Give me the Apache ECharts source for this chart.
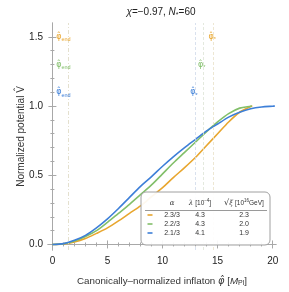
<!DOCTYPE html>
<html><head><meta charset="utf-8">
<script src="https://cdn.jsdelivr.net/npm/echarts@6/dist/echarts.min.js"></script>
<style>html,body{margin:0;padding:0;background:#fff}#c{width:289px;height:292px}</style>
</head><body><div id="c"></div>
<script>
// ---- data ----
const phiBlue = [0,1,2,3,4,5,6,7,8,9,10,11,12,13,14,15,16,17,18,19,20,20.2];
const vBlue   = [0,0.006,0.03,0.066,0.12,0.185,0.26,0.34,0.42,0.49,0.565,0.635,0.70,0.76,0.82,0.87,0.92,0.955,0.98,0.993,0.999,1.0];
const phiGreen = [0,1,2,3,4,5,6,7,8,9,10,11,12,13,14,15,16,17,18,18.1];
const vGreen   = [0,0.005,0.025,0.058,0.10,0.16,0.225,0.29,0.36,0.43,0.51,0.59,0.665,0.74,0.815,0.885,0.945,0.985,0.999,1.0];
const phiOrange = [0,1,2,3,4,5,6,7,8,9,10,11,12,13,14,15,16,17,18,18.15];
const vOrange   = [0,0.004,0.018,0.043,0.08,0.12,0.17,0.225,0.278,0.345,0.41,0.485,0.555,0.63,0.715,0.80,0.885,0.955,0.997,1.0];
const alphaLabels = ['2.3/3','2.2/3','2.1/3'];   // orange, green, blue
const lambdaVals = ['4.3','4.3','4.1'];
const sqrtXiVals = ['2.3','2.0','1.9'];
const phiEnd = 1.45;
const phiStar = {orange:14.6, green:13.69, blue:12.94};
const labelY = {orange:1.5, green:1.3, blue:1.1};
const phiEndLabelX = 1.0;
const phiStarLabelX = {orange:14.5, green:13.55, blue:12.85};
const xMajor = [0,5,10,15,20];
const xMinor = [0,1,2,3,4,5,6,7,8,9,10,11,12,13,14,15,16,17,18,19,20];
const yMajor = [0,0.5,1.0,1.5];
const yMinor = [0,0.1,0.2,0.3,0.4,0.5,0.6,0.7,0.8,0.9,1.0,1.1,1.2,1.3,1.4,1.5];

const C = {orange:'#e8a62e', green:'#82bf6a', blue:'#3d7fd8'};
const FONT = 'Liberation Sans';
const frame = '#a8a8a8';

function pairs(xs, ys){ return xs.map((x,i)=>[x, ys[i]]); }
const gridRect = {left:48, right:13, top:23, bottom:42};

function xAx(grid, pos, ticks, labels, len){
  return {type:'value', gridIndex:grid, position:pos, min:-0.4, max:20.3,
    axisLine:{show:grid===0, lineStyle:{color:frame, width:1}},
    axisTick:{show:true, inside:true, length:len, customValues:ticks, lineStyle:{color:frame}},
    axisLabel:{show:!!labels, customValues:labels||[], fontFamily:FONT, fontSize:10, color:'#222', margin:6,
      formatter:v=>String(v)},
    splitLine:{show:false}};
}
function yAx(grid, pos, ticks, labels, len){
  return {type:'value', gridIndex:grid, position:pos, min:-0.04, max:1.6,
    axisLine:{show:grid===0, lineStyle:{color:frame, width:1}},
    axisTick:{show:true, inside:true, length:len, customValues:ticks, lineStyle:{color:frame}},
    axisLabel:{show:!!labels, customValues:labels||[], fontFamily:FONT, fontSize:10, color:'#222', margin:5,
      formatter:v=>v.toFixed(1)},
    splitLine:{show:false}};
}

const xa = [xAx(0,'bottom',xMajor,xMajor,4), xAx(0,'top',xMajor,null,4),
            xAx(1,'bottom',xMinor,null,2), xAx(1,'top',xMinor,null,2)];
xa[0].name = '{n|Canonically–normalized inflaton }{i|φ̂}{n| [}{m|M}{sub|Pl}{n|]}';
xa[0].nameLocation = 'middle';
xa[0].nameGap = 25;
xa[0].nameMoveOverlap = false;
xa[0].nameTextStyle = {fontFamily:FONT, color:'#333', rich:{
  n:{fontFamily:FONT,fontSize:9.8,color:'#333'},
  i:{fontFamily:'DejaVu Sans',fontSize:9.8,fontStyle:'italic',color:'#333'},
  m:{fontFamily:FONT,fontSize:9.8,fontStyle:'italic',color:'#333'},
  sub:{fontFamily:FONT,fontSize:7,color:'#333',padding:[5,0,0,0]}}};
const ya = [yAx(0,'left',yMajor,yMajor,4), yAx(0,'right',yMajor,null,4),
            yAx(1,'left',yMinor,null,2), yAx(1,'right',yMinor,null,2)];
ya[0].name = 'Normalized potential V̂';
ya[0].nameLocation = 'middle';
ya[0].nameGap = 22;
ya[0].nameMoveOverlap = false;
ya[0].nameTextStyle = {fontFamily:FONT, fontSize:10, color:'#333'};

function endLabel(col, x, y, sub){
  return {coord:[x,y], symbolSize:0, label:{show:true, position:'inside',
    formatter:'{p|φ̂}{s|'+sub+'}', rich:{
      p:{fontFamily:'DejaVu Sans',fontSize:8,color:C[col]},
      s:{fontFamily:FONT,fontSize:5.5,color:C[col],padding:[6,0,0,0]}}}};
}

function series(col, xs, ys, lineColor){
  return {type:'line', xAxisIndex:0, yAxisIndex:0, data:pairs(xs,ys), smooth:0.3, showSymbol:false,
    lineStyle:{color:C[col], width:1.6}, z:3,
    markLine:{silent:true, symbol:'none', label:{show:false},
      data:[{xAxis:phiStar[col], lineStyle:{color:lineColor, type:[3,2], width:0.8}}]},
    markPoint:{data:[endLabel(col, phiEndLabelX, labelY[col], 'end'),
                     endLabel(col, phiStarLabelX[col], labelY[col], '*')]}};
}

const s = [
  series('orange', phiOrange, vOrange, '#e9e1c8'),
  series('green', phiGreen, vGreen, '#dde3d5'),
  series('blue', phiBlue, vBlue, '#cfd9ea')
];
s[0].markLine.data.push({xAxis:phiEnd, lineStyle:{color:'#ddd8c2', type:[4,2,1,2], width:0.8}});

// legend table
const L = {x0:141, y0:192, x1:270, y1:245, colA:172, colL:200, colX:244, sw:150, rows:[215,224,233], head:203, sep:210.5};
const rowCols = ['orange','green','blue'];
const g = [];
g.push({type:'rect', shape:{x:L.x0, y:L.y0, width:L.x1-L.x0, height:L.y1-L.y0, r:5},
  style:{fill:'rgba(255,255,255,0.92)', stroke:'#a0a0a0', lineWidth:1}, z:10});
g.push({type:'line', shape:{x1:145, y1:L.sep, x2:267, y2:L.sep}, style:{stroke:'#555', lineWidth:0.6}, z:11});
const hs = {fontFamily:FONT, fontSize:7, fill:'#333', align:'center', verticalAlign:'middle'};
g.push({type:'text', x:L.colA, y:L.head, style:Object.assign({}, hs, {text:'α', fontStyle:'italic', fontFamily:'DejaVu Serif'}), z:11});
g.push({type:'text', x:L.colL, y:L.head, style:Object.assign({}, hs, {text:'{i|λ} {n|[10}{sup|−4}{n|]}', rich:{
  i:{fontFamily:'DejaVu Serif',fontStyle:'italic',fontSize:7,fill:'#333'},
  n:{fontFamily:FONT,fontSize:6.5,fill:'#333'},
  sup:{fontFamily:FONT,fontSize:4.5,fill:'#333',padding:[0,0,4,0]}}}), z:11});
g.push({type:'text', x:L.colX, y:L.head, style:Object.assign({}, hs, {text:'{r|√}{i|ξ} {n|[10}{sup|16}{n|GeV]}', rich:{
  r:{fontFamily:'DejaVu Sans',fontSize:8,fill:'#333'},
  i:{fontFamily:'DejaVu Serif',fontStyle:'italic',fontSize:7,fill:'#333'},
  n:{fontFamily:FONT,fontSize:6.5,fill:'#333'},
  sup:{fontFamily:FONT,fontSize:4.5,fill:'#333',padding:[0,0,4,0]}}}), z:11});
rowCols.forEach((col,i)=>{
  const y = L.rows[i];
  g.push({type:'line', shape:{x1:L.sw-2.5, y1:y, x2:L.sw+2.5, y2:y}, style:{stroke:C[col], lineWidth:1.6}, z:11});
  g.push({type:'text', x:L.colA, y:y, style:Object.assign({}, hs, {text:alphaLabels[i]}), z:11});
  g.push({type:'text', x:L.colL, y:y, style:Object.assign({}, hs, {text:lambdaVals[i]}), z:11});
  g.push({type:'text', x:L.colX, y:y, style:Object.assign({}, hs, {text:sqrtXiVals[i]}), z:11});
});
// title
g.push({type:'text', x:161, y:12, style:{text:'{i|χ}{n|=−0.97, }{i|N}{sub|*}{n|=60}', align:'center', verticalAlign:'middle',
  rich:{i:{fontFamily:FONT,fontStyle:'italic',fontSize:10,fill:'#222'},
        n:{fontFamily:FONT,fontSize:10,fill:'#222'},
        sub:{fontFamily:FONT,fontSize:7,fill:'#222',padding:[6,0,0,0]}}}});

const chart = echarts.init(document.getElementById('c'), null, {renderer:'canvas'});
chart.setOption({
  animation:false,
  grid:[Object.assign({}, gridRect), Object.assign({}, gridRect)],
  xAxis: xa, yAxis: ya,
  series: s,
  graphic: g
});
</script></body></html>
